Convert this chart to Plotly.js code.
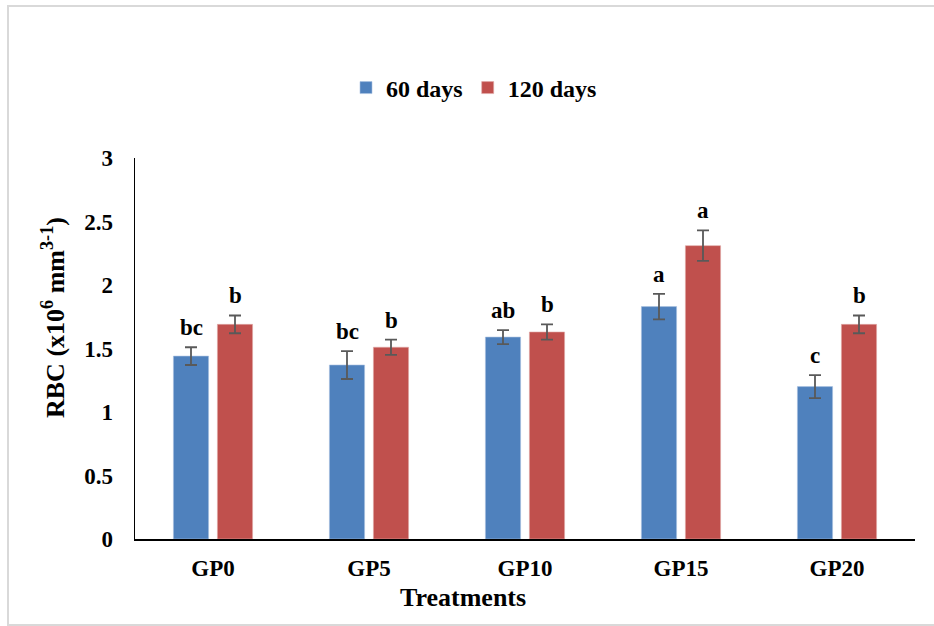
<!DOCTYPE html>
<html>
<head>
<meta charset="utf-8">
<script src="https://cdn.plot.ly/plotly-3.0.1.min.js"></script>
<style>
  html, body { margin: 0; padding: 0; background: #ffffff; }
  #chart { width: 934px; height: 626px; }
</style>
</head>
<body>
<div id="chart"></div>
<script>
// Red blood cell counts per treatment, at 60 and 120 days
const categories = ['GP0', 'GP5', 'GP10', 'GP15', 'GP20'];
const days60 = [1.44, 1.37, 1.59, 1.83, 1.20];
const err60 = [0.07, 0.11, 0.055, 0.10, 0.09];
const days120 = [1.69, 1.51, 1.63, 2.31, 1.69];
const err120 = [0.07, 0.06, 0.06, 0.12, 0.07];
const letters60 = ['bc', 'bc', 'ab', 'a', 'c'];
const letters120 = ['b', 'b', 'b', 'a', 'b'];
const yTicks = [0, 0.5, 1, 1.5, 2, 2.5, 3];
const yTickText = ['0', '0.5', '1', '1.5', '2', '2.5', '3'];

const FONT = 'Times New Roman';
const BLUE = '#4F81BD';
const RED = '#C0504D';
const BARGAP = 0.436;

// margins chosen so the plot area spans x 135..915 and y 158..539
const M = { l: 135, r: 19, t: 158, b: 87 };
const W = 934, H = 626;
const plotW = W - M.l - M.r, plotH = H - M.t - M.b;
const px = x => (x - M.l) / plotW;
const py = y => (H - M.b - y) / plotH;

function errBar(arr) {
  return { type: 'data', array: arr, visible: true, color: '#595959', thickness: 1.8, width: 6 };
}

const traces = [
  {
    type: 'bar', name: '60 days', x: categories, y: days60,
    marker: { color: BLUE, line: { color: '#a9c1e0', width: 0.6 } },
    error_y: errBar(err60)
  },
  {
    type: 'bar', name: '120 days', x: categories, y: days120,
    marker: { color: RED, line: { color: '#e0a9a7', width: 0.6 } },
    error_y: errBar(err120)
  }
];

// significance letters sit above each error bar
const off = (1 - BARGAP) / 4;
const letterFont = { family: FONT, size: 23, color: '#000', weight: 'bold' };
const annotations = [];
categories.forEach((c, i) => {
  annotations.push({
    x: i - off, y: days60[i] + err60[i], xref: 'x', yref: 'y',
    text: letters60[i], showarrow: false, yanchor: 'bottom', yshift: 5,
    font: letterFont
  });
  annotations.push({
    x: i + off, y: days120[i] + err120[i], xref: 'x', yref: 'y',
    text: letters120[i], showarrow: false, yanchor: 'bottom', yshift: 5,
    font: letterFont
  });
});

// axis titles
annotations.push({
  x: px(53), y: py(318), xref: 'paper', yref: 'paper',
  text: 'RBC (x10<sup>6</sup> mm<sup>3-1</sup>)', textangle: -90, showarrow: false,
  xanchor: 'center', yanchor: 'middle',
  font: { family: FONT, size: 26, color: '#000', weight: 'bold' }
});
annotations.push({
  x: px(463), y: py(597), xref: 'paper', yref: 'paper',
  text: 'Treatments', showarrow: false, xanchor: 'center', yanchor: 'middle',
  font: { family: FONT, size: 26, color: '#000', weight: 'bold' }
});

const layout = {
  width: W, height: H,
  margin: M,
  paper_bgcolor: '#ffffff', plot_bgcolor: '#ffffff',
  font: { family: FONT, size: 22, color: '#000', weight: 'bold' },
  barmode: 'group', bargap: BARGAP, bargroupgap: 0.2,
  showlegend: true,
  legend: {
    orientation: 'h', x: px(474), y: py(88), xanchor: 'center', yanchor: 'middle',
    font: { family: FONT, size: 24, color: '#000', weight: 'bold' },
    itemwidth: 30, tracegroupgap: 0, traceorder: 'normal'
  },
  xaxis: {
    type: 'category', range: [-0.5, 4.5],
    showline: true, linecolor: '#000', linewidth: 2,
    ticks: '', showgrid: false, zeroline: false,
    ticklabelstandoff: 7,
    tickfont: { family: FONT, size: 23, color: '#000', weight: 'bold' }
  },
  yaxis: {
    range: [0, 3], tickvals: yTicks, ticktext: yTickText,
    showline: true, linecolor: '#000', linewidth: 1.5,
    ticks: '', showgrid: false, zeroline: false,
    ticklabelstandoff: 16,
    tickfont: { family: FONT, size: 23, color: '#000', weight: 'bold' }
  },
  annotations: annotations,
  shapes: [{
    type: 'rect', xref: 'paper', yref: 'paper', layer: 'below',
    x0: px(8), x1: px(945), y0: py(625), y1: py(6),
    line: { color: '#d9d9d9', width: 2 }, fillcolor: 'rgba(0,0,0,0)'
  }]
};

Plotly.newPlot('chart', traces, layout, { displayModeBar: false, staticPlot: true });
</script>
</body>
</html>
